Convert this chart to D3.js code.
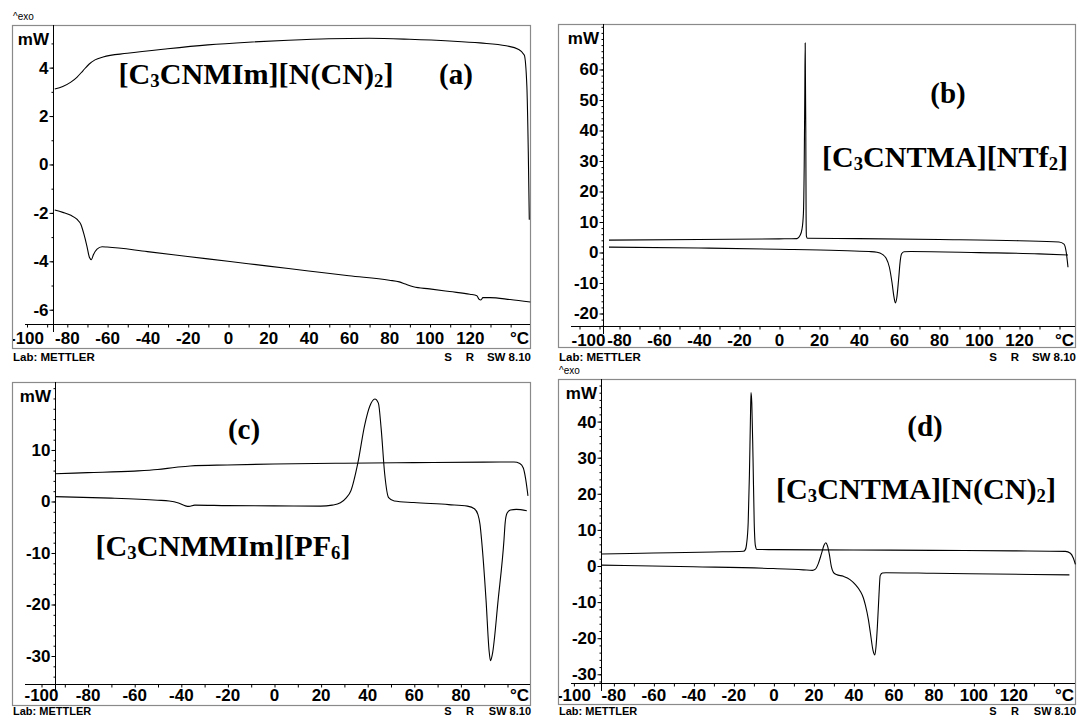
<!DOCTYPE html>
<html>
<head>
<meta charset="utf-8">
<script src="https://cdn.jsdelivr.net/npm/d3@7"></script>
<style>
body { margin: 0; background: #fff; }
svg text { font-family: "Liberation Sans", Arial, sans-serif; fill: #000; }
.tk text { font-family: "Liberation Sans", Arial, sans-serif; font-weight: bold; font-size: 17px; }
.name { font-family: "Liberation Serif", "Times New Roman", serif; font-weight: bold; }
</style>
</head>
<body>
<script>
// DSC curves: [temperature in °C, heat flow in mW]

// (a) [C3CNMIm][N(CN)2]
var curveA1 = [[-86,3.1],[-82,3.2],[-78,3.38],[-75,3.58],[-72,3.85],[-69,4.12],[-66,4.3],[-62,4.42],[-50,4.57],[-30,4.76],[-10,4.92],[10,5.03],[30,5.11],[50,5.17],[70,5.19],[90,5.15],[110,5.08],[125,5.0],[138,4.88],[144,4.74],[147,4.5],[148.3,3.2],[149,0.5],[149.5,-2.3]];
var curveA2 = [[-86,-1.9],[-82,-2.0],[-78,-2.12],[-75,-2.28],[-73,-2.5],[-71.5,-2.9],[-70,-3.4],[-68.8,-3.85],[-67.8,-3.95],[-66.8,-3.75],[-65,-3.52],[-62.5,-3.42],[-60,-3.43],[-40,-3.62],[-20,-3.82],[0,-4.02],[20,-4.22],[40,-4.42],[60,-4.62],[80,-4.8],[85,-4.87],[88,-4.96],[92,-5.07],[100,-5.16],[110,-5.27],[120,-5.38],[123.5,-5.44],[124.5,-5.58],[125.5,-5.62],[126.5,-5.52],[130,-5.52],[140,-5.6],[150,-5.7]];

// (b) [C3CNTMA][NTf2]
var curveB1 = [[-85,3.9],[-40,4.1],[0,4.3],[9,4.4],[10.5,5.4],[11.5,7.5],[12.2,12.5],[12.6,28],[12.9,52],[13.1,68.5],[13.4,40],[13.55,12],[13.7,5.2],[14.2,4.5],[40,4.4],[80,4.1],[120,3.7],[140,3.3],[142.5,2.6],[143.6,0],[144.5,-5]];
var curveB2 = [[-85,1.6],[-40,1.3],[0,0.9],[30,0.5],[45,0.15],[49,-0.1],[51.5,-0.7],[53.5,-2],[55.2,-5],[56.5,-10],[57.5,-14.8],[58.2,-16.7],[58.9,-15],[59.8,-9],[60.6,-3],[61.3,-0.6],[62.5,0.1],[66,0.15],[100,-0.2],[130,-0.6],[144.5,-1.0]];

// (c) [C3CNMMIm][PF6]
var curveC1 = [[-94,5.3],[-80,5.5],[-60,5.8],[-50,6.1],[-42,6.55],[-36,6.8],[-20,7.0],[0,7.18],[30,7.34],[60,7.45],[90,7.55],[103,7.57],[105.5,7.3],[107,6.4],[108,4.3],[109,1.0]];
var curveC2 = [[-94,0.85],[-70,0.55],[-50,0.15],[-45,0.0],[-41,-0.4],[-38,-0.95],[-36.5,-1.05],[-34,-0.8],[-20,-0.9],[0,-0.95],[20,-1.0],[25,-0.8],[28.5,-0.35],[31,0.6],[33,2.0],[36,7.4],[38.9,14.7],[41.1,18.4],[43.3,19.8],[44.8,19.0],[46,14],[47.5,5.3],[49.2,0.65],[51.6,0],[60,-0.3],[75,-0.7],[83,-1.0],[86,-1.5],[87.5,-2.6],[88.4,-4.5],[89.1,-7.6],[91,-19.2],[92.3,-29],[92.9,-31],[93.7,-29.8],[96.2,-19.2],[98.7,-7.6],[99.2,-4.3],[100,-2.4],[101.5,-1.75],[104,-1.62],[108.5,-1.9]];

// (d) [C3CNTMA][N(CN)2]
var curveD1 = [[-86,3.2],[-60,3.45],[-30,3.75],[-15,3.95],[-14,4.4],[-13.4,6],[-12.6,12],[-12,25],[-11.5,40],[-11.2,47.9],[-10.8,45],[-10.2,30],[-9.6,12],[-9.0,5.5],[-8.3,4.45],[0,4.4],[40,4.3],[80,4.2],[120,4.05],[146,3.9],[148.5,3.4],[150,2.0],[151,0.3]];
var curveD2 = [[-86,0.1],[-40,-0.35],[0,-0.85],[15,-1.2],[19.5,-1.35],[21,-1.0],[22.5,0.6],[24,3.2],[25.3,5.6],[26.2,6.3],[27,5.5],[28,3],[29,-0.4],[30,-1.9],[31.5,-2.5],[35,-3.0],[38.3,-3.9],[41,-5.3],[43.5,-7.2],[45,-9],[46,-11],[47.5,-15],[48.5,-18.7],[49.8,-23.5],[50.7,-24.8],[51.3,-22.5],[52,-16.8],[52.8,-8],[53.4,-2.8],[54.5,-2.1],[56.3,-2.0],[80,-2.15],[110,-2.35],[148,-2.6]];

// tick labels
var xTicksLong = [-100,-80,-60,-40,-20,0,20,40,60,80,100,120];
var xTicksShort = [-100,-80,-60,-40,-20,0,20,40,60,80];
var yTicksA = [-6,-4,-2,0,2,4];
var yTicksB = [-20,-10,0,10,20,30,40,50,60];
var yTicksC = [-30,-20,-10,0,10];
var yTicksD = [-30,-20,-10,0,10,20,30,40];

// sample names, [text, isSubscript]
var nameA = [["[C",0],["3",1],["CNMIm][N(CN)",0],["2",1],["]",0]];
var nameB = [["[C",0],["3",1],["CNTMA][NTf",0],["2",1],["]",0]];
var nameC = [["[C",0],["3",1],["CNMMIm][PF",0],["6",1],["]",0]];
var nameD = [["[C",0],["3",1],["CNTMA][N(CN)",0],["2",1],["]",0]];

// layout of the four screenshots
var panels = [
	{id:"a", frame:[12,25,519,324], yAxisX:53, xAxisY:324, xDom:[-100,150], xRange:[26.5,530.3], yDom:[-6.61,5.74],
	 xTicks:xTicksLong, xMinor:[-100,140], yTicks:yTicksA, yMinor:[-6,5,1], curves:[curveA1,curveA2], exo:true, clipFirst:true, firstShift:0, labelPad:8,
	 name:nameA, nameX:256, nameY:84, nameW:275, label:"(a)", labelX:456, labelY:84, footY:361, footSize:11.5},
	{id:"b", frame:[558,24,518,324], yAxisX:603, xAxisY:326, xDom:[-100,148.5], xRange:[579,1076], yDom:[-24.26,74.75],
	 xTicks:xTicksLong, xMinor:[-100,140], yTicks:yTicksB, yMinor:[-24,74,2], curves:[curveB1,curveB2], exo:false, clipFirst:false, firstShift:9, labelPad:8,
	 name:nameB, nameX:945, nameY:167, nameW:246, label:"(b)", labelX:948, labelY:103, footY:361, footSize:11.5},
	{id:"c", frame:[12,382,519,324], yAxisX:55, xAxisY:684, xDom:[-100,110], xRange:[41,530.3], yDom:[-35.53,23.1],
	 xTicks:xTicksShort, xMinor:[-100,100], yTicks:yTicksC, yMinor:[-34,22,2], curves:[curveC1,curveC2], exo:false, clipFirst:false, firstShift:0, labelPad:5,
	 name:nameC, nameX:223, nameY:556, nameW:255, label:"(c)", labelX:244, labelY:439, footY:715, footSize:11},
	{id:"d", frame:[558,379,518,326], yAxisX:601, xAxisY:683, xDom:[-100,151], xRange:[573.4,1075.4], yDom:[-32.55,51.66],
	 xTicks:xTicksLong, xMinor:[-100,140], yTicks:yTicksD, yMinor:[-32,50,2], curves:[curveD1,curveD2], exo:true, clipFirst:true, firstShift:0, labelPad:6,
	 name:nameD, nameX:916, nameY:499, nameW:280, label:"(d)", labelX:925, labelY:436, footY:715, footSize:11}
];

var width = 1080, height = 717;

var svg = d3.select("body").append("svg")
	.attr("width", width)
	.attr("height", height);
svg.append("rect").attr("width", width).attr("height", height).attr("fill", "#fff");
var defs = svg.append("defs");

var minusText = function(d){ return d < 0 ? "-" + Math.abs(d) : d; };

var drawPanel = function(p) {
	var fx = p.frame[0], fy = p.frame[1], fw = p.frame[2], fh = p.frame[3];
	var g = svg.append("g").attr("class", "panel-" + p.id);

	defs.append("clipPath").attr("id", "clip-" + p.id)
		.append("rect").attr("x", fx + 1).attr("y", fy).attr("width", fw - 1).attr("height", fh);

	var x = d3.scaleLinear().domain(p.xDom).range(p.xRange);
	var y = d3.scaleLinear().domain(p.yDom).range([p.xAxisY, fy]);

	// frame of the screenshot
	g.append("rect")
		.attr("x", fx + 0.5).attr("y", fy + 0.5)
		.attr("width", fw - 1).attr("height", fh - 1)
		.attr("fill", "none").attr("stroke", "#8a8a8a").attr("stroke-width", 1.2);

	// x axis: line, ticks every 10 °C, labels every 20 °C
	g.append("line")
		.attr("x1", fx + 13).attr("x2", fx + fw - 1)
		.attr("y1", p.xAxisY + 0.5).attr("y2", p.xAxisY + 0.5)
		.attr("stroke", "#000");
	var xMinorAxis = d3.axisBottom(x)
		.tickValues(d3.range(p.xMinor[0], p.xMinor[1] + 1, 10))
		.tickSize(3).tickFormat("");
	g.append("g").attr("transform", "translate(0.5," + (p.xAxisY + 0.5) + ")")
		.call(xMinorAxis)
		.call(function(s){ s.select(".domain").remove(); });

	var xAxis = d3.axisBottom(x).tickValues(p.xTicks).tickSize(0).tickPadding(p.labelPad).tickFormat(minusText);
	var xWrap = g.append("g");
	if (p.clipFirst) xWrap.attr("clip-path", "url(#clip-" + p.id + ")");
	var xl = xWrap.append("g").attr("class", "tk")
		.attr("transform", "translate(0," + p.xAxisY + ")")
		.call(xAxis)
		.call(function(s){ s.select(".domain").remove(); });
	xl.attr("font-family", null).attr("font-size", null);
	xl.selectAll(".tick text")
		.filter(function(d){ return d === p.xTicks[0]; })
		.attr("x", p.firstShift);

	g.append("text")
		.attr("x", fx + fw - 2).attr("y", p.xAxisY + p.labelPad + 12)
		.attr("text-anchor", "end")
		.style("font-weight", "bold").style("font-size", "17px")
		.text("°C");

	// y axis
	g.append("line")
		.attr("x1", p.yAxisX + 0.5).attr("x2", p.yAxisX + 0.5)
		.attr("y1", fy).attr("y2", p.xAxisY + 8)
		.attr("stroke", "#000");
	var yMinorAxis = d3.axisLeft(y)
		.tickValues(d3.range(p.yMinor[0], p.yMinor[1] + 0.001, p.yMinor[2]))
		.tickSize(2).tickFormat("");
	g.append("g").attr("transform", "translate(" + (p.yAxisX + 0.5) + ",0.5)")
		.call(yMinorAxis)
		.call(function(s){ s.select(".domain").remove(); });
	var yAxis = d3.axisLeft(y).tickValues(p.yTicks).tickSize(4).tickPadding(1).tickFormat(minusText);
	var yl = g.append("g").attr("class", "tk")
		.attr("transform", "translate(" + (p.yAxisX + 0.5) + ",0.5)")
		.call(yAxis)
		.call(function(s){ s.select(".domain").remove(); });
	yl.attr("font-family", null).attr("font-size", null);

	g.append("text")
		.attr("x", p.yAxisX - 4).attr("y", fy + 20)
		.attr("text-anchor", "end")
		.style("font-weight", "bold").style("font-size", "17px")
		.text("mW");

	// curves
	var line = d3.line()
		.x(function(d){ return x(d[0]); })
		.y(function(d){ return y(d[1]); })
		.curve(d3.curveMonotoneX);
	g.append("g").attr("clip-path", "url(#clip-" + p.id + ")")
		.selectAll("path")
		.data(p.curves)
		.enter()
		.append("path")
		.attr("d", line)
		.attr("fill", "none")
		.attr("stroke", "#000")
		.attr("stroke-width", 1.1);

	// sample name and panel letter
	var nm = g.append("text").attr("class", "name")
		.attr("x", p.nameX).attr("y", p.nameY)
		.attr("text-anchor", "middle")
		.attr("font-size", 29)
		.attr("textLength", p.nameW)
		.attr("lengthAdjust", "spacingAndGlyphs");
	var shifted = false;
	p.name.forEach(function(part){
		var t = nm.append("tspan").text(part[0]);
		if (part[1]) { t.attr("font-size", 18).attr("dy", 3); shifted = true; }
		else if (shifted) { t.attr("dy", -3); shifted = false; }
	});
	g.append("text").attr("class", "name")
		.attr("x", p.labelX).attr("y", p.labelY)
		.attr("text-anchor", "middle")
		.attr("font-size", 29)
		.text(p.label);

	// software footer
	if (p.exo) {
		g.append("text").attr("x", fx + 1).attr("y", fy - 5)
			.style("font-size", "10px").text("^exo");
	}
	var fr = fx + fw;
	var foot = [["Lab: METTLER", fx + 1, "start"], ["S", fr - 83, "middle"], ["R", fr - 61, "middle"], ["SW 8.10", fr, "end"]];
	foot.forEach(function(f){
		g.append("text").attr("x", f[1]).attr("y", p.footY).attr("text-anchor", f[2])
			.style("font-size", p.footSize + "px").style("font-weight", "bold").text(f[0]);
	});
};

panels.forEach(drawPanel);
</script>
</body>
</html>
